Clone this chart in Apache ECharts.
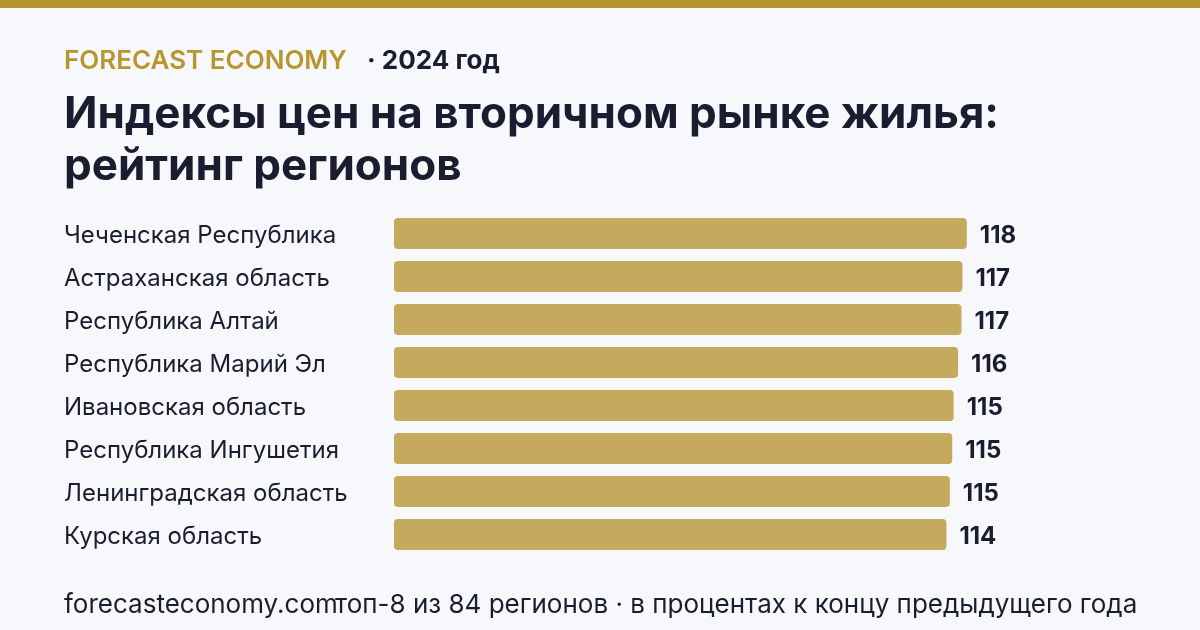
<!DOCTYPE html>
<html>
<head>
<meta charset="utf-8">
<script src="https://cdn.jsdelivr.net/npm/echarts@6/dist/echarts.min.js"></script>
<style>
  html, body { margin: 0; padding: 0; background: #f7f8fc; }
  #demo { width: 1200px; height: 630px; }
</style>
</head>
<body>
<div id="demo"></div>
<script>
// данные для графика
var regions = [
    'Чеченская Республика',
    'Астраханская область',
    'Республика Алтай',
    'Республика Марий Эл',
    'Ивановская область',
    'Республика Ингушетия',
    'Ленинградская область',
    'Курская область'
];
var priceIndex = [118.1, 117.2, 117.0, 116.3, 115.4, 115.1, 114.6, 113.9];

var gold = '#b8962e';
var dark = '#1c1c30';
var font = 'Inter, "Noto Sans", sans-serif';

var chartDom = document.getElementById('demo');
var myChart = echarts.init(chartDom);
var option;
option = {
    backgroundColor: '#f7f8fc',
    animation: false,
    graphic: [
        { type: 'rect', left: 0, top: 0, shape: { width: 1200, height: 8 }, style: { fill: gold } },
        { type: 'text', left: 64, top: 48, style: { text: 'FORECAST ECONOMY', fill: gold, font: '600 26px ' + font } },
        { type: 'text', left: 367, top: 48, style: { text: '· 2024 год', fill: dark, font: '700 26px ' + font } },
        { type: 'text', left: 64, top: 89, style: { text: 'Индексы цен на вторичном рынке жилья:\nрейтинг регионов', fill: dark, font: '700 44px ' + font, lineHeight: 52 } },
        { type: 'text', left: 64, top: 592, style: { text: 'forecasteconomy.com', fill: dark, font: '400 26px ' + font } },
        { type: 'text', left: 335, top: 592, style: { text: 'топ-8 из 84 регионов · в процентах к концу предыдущего года', fill: dark, font: '400 26px ' + font } }
    ],
    grid: {
        left: 394,
        right: 224,
        top: 212,
        height: 344
    },
    xAxis: {
        type: 'value',
        min: 0,
        max: 120,
        show: false
    },
    yAxis: {
        type: 'category',
        inverse: true,
        data: regions,
        axisLine: { show: false },
        axisTick: { show: false },
        axisLabel: {
            align: 'left',
            verticalAlign: 'top',
            lineHeight: 5,
            margin: 330,
            color: dark,
            fontFamily: font,
            fontSize: 24
        }
    },
    series: [{
        type: 'bar',
        data: priceIndex,
        barWidth: 31,
        itemStyle: {
            color: '#c5a95c',
            borderRadius: 4
        },
        label: {
            show: true,
            position: 'right',
            distance: 13,
            offset: [0, 2],
            color: dark,
            fontFamily: font,
            fontWeight: 700,
            fontSize: 24,
            formatter: function (p) { return Math.round(p.value); }
        }
    }]
};
option && myChart.setOption(option);
</script>
</body>
</html>
